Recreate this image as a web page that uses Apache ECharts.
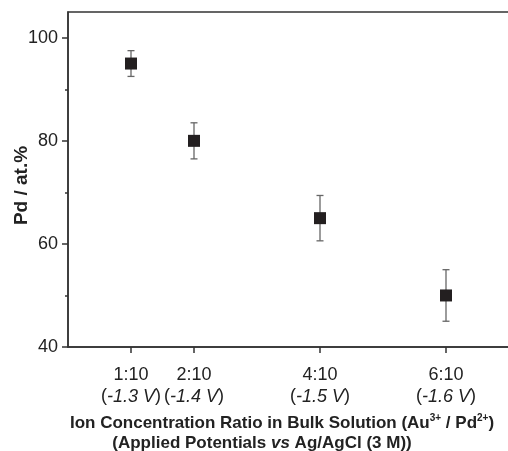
<!DOCTYPE html>
<html>
<head>
<meta charset="utf-8">
<script src="https://cdn.jsdelivr.net/npm/echarts@6.0.0/dist/echarts.min.js"></script>
<style>
  html, body { margin: 0; padding: 0; background: #fff; }
  #chart { width: 508px; height: 451px; }
</style>
</head>
<body>
<div id="chart"></div>
<script>
// x positions (ratio Au:Pd in tenths) and their labels
const ratios = [1, 2, 4, 6];
const ratioLabels = ['1:10', '2:10', '4:10', '6:10'];
const potentials = ['-1.3 V', '-1.4 V', '-1.5 V', '-1.6 V'];
// Pd content (at.%) and error bar half-widths
const pdValues = [95, 80, 65, 50];
const pdErrors = [2.5, 3.5, 4.4, 5];
const yTicks = [40, 60, 80, 100];
const yMinorTicks = [50, 70, 90];

const textColor = '#222';
const axisColor = '#333';

let chart = echarts.init(document.getElementById('chart'));

let points = ratios.map((r, i) => [r, pdValues[i]]);
let errData = ratios.map((r, i) => [r, pdValues[i], pdValues[i] - pdErrors[i], pdValues[i] + pdErrors[i]]);

let option = {
    animation: false,
    grid: {
        left: 68, top: 12, right: -1, bottom: 104,
        outerBoundsMode: 'none',
        containLabel: false,
        show: true, borderColor: axisColor, borderWidth: 1.5
    },
    xAxis: {
        type: 'value',
        min: 0, max: 7,
        splitLine: { show: false },
        axisLine: { lineStyle: { color: axisColor, width: 1.5 } },
        axisTick: { customValues: ratios, length: 6, lineStyle: { color: axisColor, width: 1.5 } },
        axisLabel: {
            customValues: ratios,
            margin: 18,
            formatter: function (v) {
                let i = ratios.indexOf(v);
                return '{n|' + ratioLabels[i] + '}\n{p|(}{i|' + potentials[i] + '}{p|)}';
            },
            rich: {
                n: { fontFamily: 'Liberation Sans', fontSize: 18, color: textColor, lineHeight: 21 },
                p: { fontFamily: 'Liberation Sans', fontSize: 18, color: textColor, lineHeight: 21 },
                i: { fontFamily: 'Liberation Sans', fontSize: 18, fontStyle: 'italic', color: textColor, lineHeight: 21 }
            }
        }
    },
    yAxis: [{
        type: 'value',
        min: 40, max: 105,
        splitLine: { show: false },
        name: 'Pd / at.%',
        nameLocation: 'middle',
        nameGap: 37,
        nameMoveOverlap: false,
        nameTextStyle: {
            fontFamily: 'Liberation Sans', fontWeight: 'bold', fontSize: 19, color: textColor,
            padding: [0, 12, 0, 0]
        },
        axisLine: { show: true, lineStyle: { color: axisColor, width: 1.5 } },
        axisTick: { customValues: yTicks, length: 6, lineStyle: { color: axisColor, width: 1.5 } },
        axisLabel: {
            customValues: yTicks,
            margin: 10,
            fontFamily: 'Liberation Sans', fontSize: 18, color: textColor
        }
    }, {
        type: 'value',
        min: 40, max: 105,
        position: 'left',
        splitLine: { show: false },
        axisLine: { show: false },
        axisLabel: { show: false },
        axisTick: { customValues: yMinorTicks, length: 3, lineStyle: { color: axisColor, width: 1.5 } }
    }],
    graphic: [{
        type: 'text',
        x: 282, y: 423,
        style: {
            text: '{b|Ion Concentration Ratio in Bulk Solution (Au}{s|3+}{b| / Pd}{s|2+}{b|)}',
            align: 'center', verticalAlign: 'middle',
            rich: {
                b: { fontFamily: 'Liberation Sans', fontWeight: 'bold', fontSize: 17, fill: textColor, lineHeight: 20 },
                s: { fontFamily: 'Liberation Sans', fontWeight: 'bold', fontSize: 10, fill: textColor, lineHeight: 20, verticalAlign: 'top' }
            }
        }
    }, {
        type: 'text',
        x: 262, y: 443,
        style: {
            text: '{b|(Applied Potentials }{i|vs}{b| Ag/AgCl (3 M))}',
            align: 'center', verticalAlign: 'middle',
            rich: {
                b: { fontFamily: 'Liberation Sans', fontWeight: 'bold', fontSize: 17, fill: textColor },
                i: { fontFamily: 'Liberation Sans', fontWeight: 'bold', fontStyle: 'italic', fontSize: 17, fill: textColor }
            }
        }
    }],
    series: [{
        type: 'custom',
        data: errData,
        z: 1,
        renderItem: function (params, api) {
            let x = api.value(0);
            let top = api.coord([x, api.value(3)]);
            let bot = api.coord([x, api.value(2)]);
            let w = 3.5;
            let st = { stroke: '#666', lineWidth: 1.3 };
            return {
                type: 'group',
                children: [
                    { type: 'line', shape: { x1: top[0], y1: top[1], x2: bot[0], y2: bot[1] }, style: st },
                    { type: 'line', shape: { x1: top[0] - w, y1: top[1], x2: top[0] + w, y2: top[1] }, style: st },
                    { type: 'line', shape: { x1: bot[0] - w, y1: bot[1], x2: bot[0] + w, y2: bot[1] }, style: st }
                ]
            };
        }
    }, {
        type: 'scatter',
        data: points,
        z: 3,
        symbol: 'rect',
        symbolSize: 12,
        itemStyle: { color: '#231f20', opacity: 1 }
    }]
};
chart.setOption(option);
</script>
</body>
</html>
